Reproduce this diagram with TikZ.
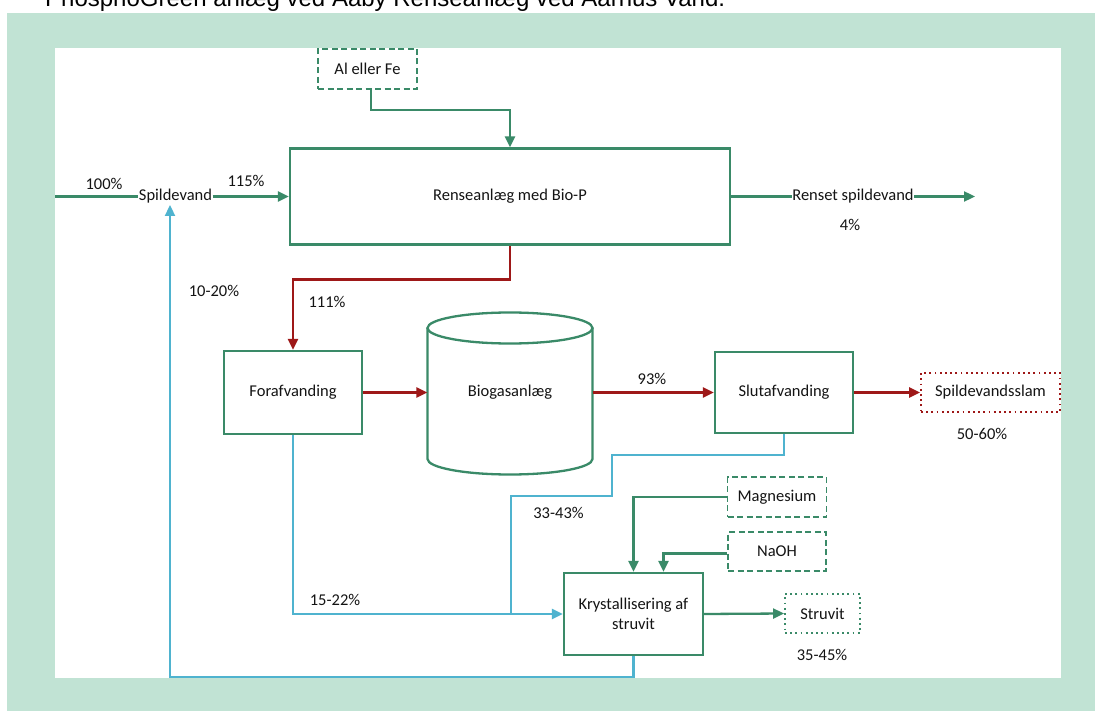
\documentclass[tikz,border=0pt]{standalone}
\usepackage{fontspec}
\setmainfont{Carlito}
\newfontfamily\titlefont{Liberation Sans}
\usetikzlibrary{arrows.meta}

\definecolor{flowgreen}{RGB}{58,138,104}
\definecolor{flowred}{RGB}{158,24,24}
\definecolor{flowblue}{RGB}{79,179,207}
\definecolor{panel}{RGB}{193,227,212}
\definecolor{ink}{RGB}{20,20,20}

\tikzset{
  every node/.style={font=\fontsize{16.5}{20}\selectfont, text=ink},
  proc/.style={draw=flowgreen, line width=2.3pt, fill=white, inner sep=0pt, align=center},
  feed/.style={draw=flowgreen, line width=1.8pt, dash pattern=on 6pt off 3.5pt, inner sep=0pt},
  prodred/.style={draw=flowred, line width=1.8pt, dash pattern=on 1.8pt off 3.4pt, inner sep=0pt},
  prodgreen/.style={draw=flowgreen, line width=1.8pt, dash pattern=on 1.8pt off 3.4pt, inner sep=0pt},
  lbl/.style={inner sep=0.5pt},
  tip/.style={-{Triangle[length=11pt,width=10pt]}},
  gflow/.style={draw=flowgreen, line width=2.3pt},
  rflow/.style={draw=flowred, line width=2.3pt},
  bflow/.style={draw=flowblue, line width=2.3pt},
}

\begin{document}
\begin{tikzpicture}[x=1pt, y=-1pt]
  \useasboundingbox (0,0) rectangle (1095,711);
  \clip (0,0) rectangle (1095,711);

  % caption line above the panel
  \node[anchor=base west, inner sep=0pt, font=\titlefont\fontsize{24}{28}\selectfont, text=black]
    (caption) at (45,6.5) {PhosphoGreen anlæg ved Aaby Renseanlæg ved Aarhus Vand.};

  % framed panel
  \fill[panel] (7,13) rectangle (1095,711);
  \fill[white] (55,48) rectangle (1061,678);

  % process units
  \node[proc, minimum width=440pt, minimum height=96pt] (rense) at (510,196.5) {Renseanlæg med Bio-P};
  \node[proc, minimum width=138pt, minimum height=83pt] (fora) at (293,392.5) {Forafvanding};
  \node[proc, minimum width=138pt, minimum height=81pt] (slut) at (784,392.5) {Slutafvanding};
  \node[proc, minimum width=139pt, minimum height=82pt] (krys) at (633.5,614) {Krystallisering af\\struvit};

  % digester tank
  \draw[flowgreen, line width=2.3pt, line join=round]
    (427.5,328) -- (427.5,459)
    .. controls (427.5,467.6) and (464.5,474.5) .. (510,474.5)
    .. controls (555.5,474.5) and (592.5,467.6) .. (592.5,459)
    -- (592.5,328);
  \draw[flowgreen, line width=2.3pt] (510,328) ellipse [x radius=82.5, y radius=15.5];
  \node[minimum width=165pt, minimum height=163pt, inner sep=0pt] (biogas) at (510,393.5) {};
  \node at (510,392) (biogastxt) {Biogasanlæg};

  % dosing and product boxes
  \node[feed, minimum width=99pt, minimum height=40pt] (al) at (367.5,69) {Al eller Fe};
  \node[feed, minimum width=99pt, minimum height=40pt] (mag) at (777,497) {Magnesium};
  \node[feed, minimum width=98pt, minimum height=39pt] (naoh) at (777,551.5) {NaOH};
  \node[prodred, minimum width=139pt, minimum height=39pt] (slam) at (990.5,392.5) {Spildevandsslam};
  \node[prodgreen, minimum width=75pt, minimum height=39pt] (struv) at (822.5,613.5) {Struvit};

  % inlet and outlet
  \coordinate (inlet) at (55,196.5);
  \node[lbl, fill=white] (spild) at (175.5,196.5) {Spildevand};
  \coordinate (spret) at (170,205);
  \node[lbl, fill=white] (renset) at (853,196.5) {Renset spildevand};
  \coordinate (outlet) at (975,196.5);
  \coordinate (bj) at (511,614);

  % green water line
  \draw[gflow] (inlet) -- (spild.west);
  \draw[gflow, tip] (spild.east) -- (rense.west);
  \draw[gflow] (rense.east) -- (renset.west);
  \draw[gflow, tip] (renset.east) -- (outlet);
  \draw[gflow, tip] ([xshift=3.5pt]al.south) -- ++(0,20) -| (rense.north);

  % red sludge line
  \draw[rflow, tip] (rense.south) -- ++(0,34) -| (fora.north);
  \draw[rflow, tip] (fora.east) -- (fora.east -| biogas.west);
  \draw[rflow, tip] (slut.west -| biogas.east) -- (slut.west);
  \draw[rflow, tip] (slut.east) -- (slam.west);

  % blue reject water lines
  \draw[bflow, tip] (fora.south) |- (krys.west);
  \draw[bflow] (slut.south) -- ++(0,21) -| (612,496) -| (bj);
  \draw[bflow, tip] (krys.south) -- ++(0,21) -| (spret);

  % chemicals and product
  \draw[gflow, tip] (mag.west) -| (krys.north);
  \draw[gflow, tip] ([yshift=-2pt]naoh.west) -| ([xshift=30pt]krys.north);
  \draw[gflow, tip] (krys.east) -- (struv.west);

  % flow shares
  \node (p100) at (104,184) {100\%};
  \node (p115) at (246,181) {115\%};
  \node (p4) at (850,225) {4\%};
  \node (p1020) at (214,291) {10-20\%};
  \node (p111) at (327,302) {111\%};
  \node (p93) at (652,379) {93\%};
  \node (p5060) at (982,434) {50-60\%};
  \node (p3343) at (558.5,513) {33-43\%};
  \node (p1522) at (335,600) {15-22\%};
  \node (p3545) at (822,655) {35-45\%};
\end{tikzpicture}
\end{document}
